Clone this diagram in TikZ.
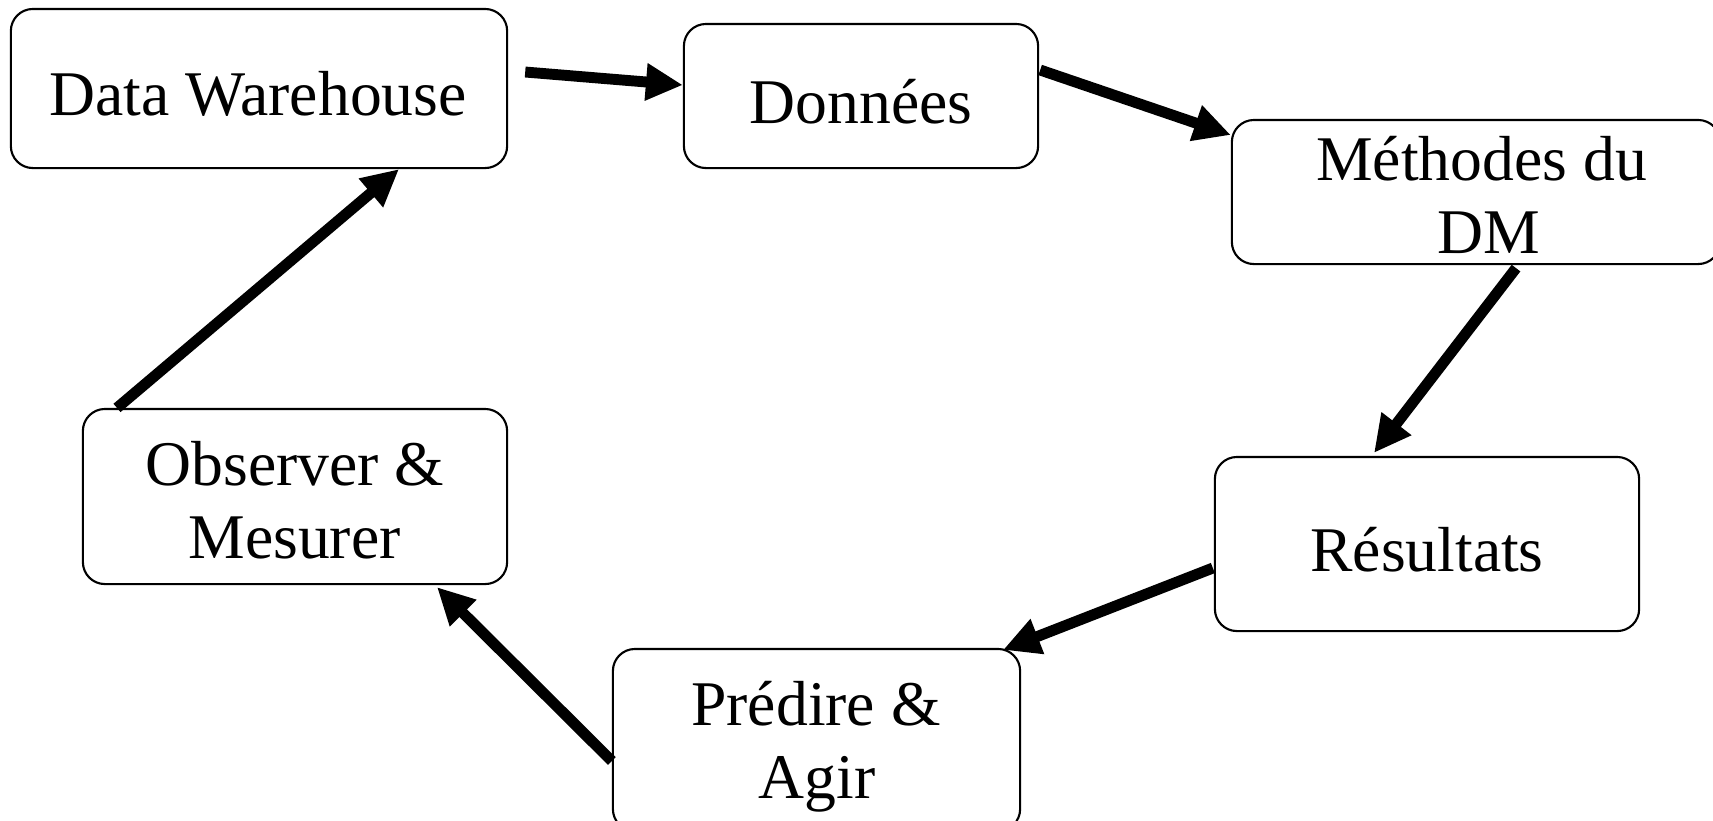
\documentclass[tikz,border=0pt]{standalone}
\usepackage{fontspec}
\setmainfont{Liberation Serif}
\usetikzlibrary{arrows.meta,calc}
\begin{document}
\begin{tikzpicture}[x=0.01cm,y=-0.01cm,
  box/.style={draw=black,line width=0.6pt,rounded corners=0.22cm,inner sep=0pt,fill=white},
  lbl/.style={inner sep=0pt,anchor=base,font=\fontsize{18.1}{20.8}\selectfont},
  flow/.style={line width=3.1pt,-{Triangle[length=10.5pt,width=10pt]}}]
\useasboundingbox (0,0) rectangle (1713,820);
\clip (0,0) rectangle (1713,820);
\fill[white] (0,0) rectangle (1713,820);
% boxes
\node[box,minimum width=4.96cm,minimum height=1.59cm] (dw) at (259,88.5) {};
\node[box,minimum width=3.54cm,minimum height=1.44cm] (don) at (861,96) {};
\node[box,minimum width=4.88cm,minimum height=1.44cm] (met) at (1476,192) {};
\node[box,minimum width=4.24cm,minimum height=1.74cm] (res) at (1427,544) {};
\node[box,minimum width=4.07cm,minimum height=1.82cm] (pre) at (816.5,740) {};
\node[box,minimum width=4.24cm,minimum height=1.75cm] (obs) at (295,496.5) {};
% labels
\node[lbl] (tdw) at (258,115) {Data Warehouse};
\node[lbl] (tdon) at (861,123) {Données};
\node[lbl] (tmet1) at (1481.5,180) {Méthodes du};
\node[lbl] (tmet2) at (1489,253.5) {DM};
\node[lbl] (tres) at (1427,571) {Résultats};
\node[lbl] (tpre1) at (816,725) {Prédire \&};
\node[lbl] (tpre2) at (817,798.5) {Agir};
\node[lbl] (tobs1) at (295,485) {Observer \&};
\node[lbl] (tobs2) at (294.5,558) {Mesurer};
% arrows
\draw[flow] ($(dw.east)+(17,-16.5)$) -- ($(don.west)+(0,-11)$);
\draw[flow] ($(don.east)+(1,-26)$) -- ($(met.west)+(0,-57)$);
\draw[flow] ($(met.south)+(40,3)$) -- ($(res.north)+(-53,-3)$);
\draw[flow] ($(res.west)+(-1,24)$) -- ($(pre.north)+(186.5,2)$);
\draw[flow] ($(pre.west)+(0,21)$) -- ($(obs.south)+(142,2)$);
\draw[flow] ($(obs.north)+(-178,0)$) -- ($(dw.south)+(140,0)$);
\end{tikzpicture}
\end{document}
